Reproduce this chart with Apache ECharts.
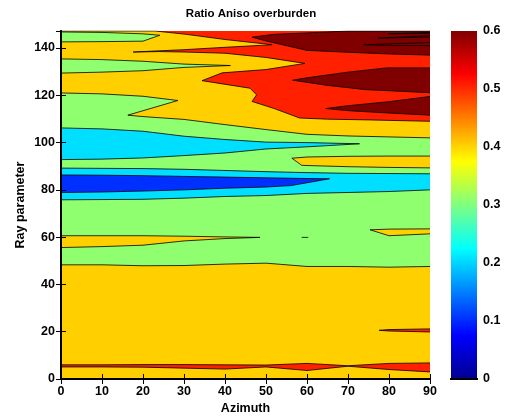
<!DOCTYPE html>
<html>
<head>
<meta charset="utf-8">
<script src="https://cdn.jsdelivr.net/npm/echarts@6/dist/echarts.min.js"></script>
<style>
html, body { margin: 0; padding: 0; background: #fff; }
#chart { width: 505px; height: 417px; }
</style>
</head>
<body>
<div id="chart"></div>
<script>
// axis ticks
const azimuthTicks = [0, 10, 20, 30, 40, 50, 60, 70, 80, 90]
const rayTicks = [0, 20, 40, 60, 80, 100, 120, 140]
const rayMax = 147.2
const ratioTicks = [0, 0.1, 0.2, 0.3, 0.4, 0.5, 0.6]

// contour lines, as [azimuth, ray parameter] paths.
// boundaries cross the whole plot, the band below each gets its level
const redOrange = [[0, 147.2], [23, 147.2], [30.5, 145.8], [40, 143.6], [51.5, 141.4],
    [40, 140.3], [30, 139.3], [17.6, 138.3],
    [24, 138.5], [30, 138.3], [40, 137.8], [50, 136.0], [59.5, 133.5],
    [50, 130.9], [39.3, 129.5], [34.4, 126.2],
    [46.1, 123.0], [47.7, 120.2], [46.6, 117.4], [52, 114.4], [58.2, 110.4], [65, 109.9], [75, 109.6], [90, 109.0]]
const orangeGreen = [[0, 121.0], [10, 120.6], [20, 119.6], [28.5, 117.8], [16.3, 111.6],
    [20, 111.0], [30, 109.8], [40, 107.6], [50, 105.5], [60, 103.5], [70, 102.8], [80, 102.4], [90, 102.0]]
const greenCyan = [[0, 89.2], [10, 89.1], [20, 89.0], [30, 88.7], [40, 88.2], [50, 87.7], [60, 87.3], [70, 87.0], [80, 86.9], [90, 86.8]]
const cyanGreen = [[0, 75.8], [10, 75.9], [20, 76.0], [30, 76.5], [40, 77.2], [50, 77.6], [60, 78.5], [70, 78.9], [80, 79.3], [90, 80.0]]
const greenOrange = [[0, 48.3], [10, 48.3], [20, 47.9], [30, 48.0], [40, 48.6], [50, 49.0], [60, 47.6], [70, 47.6], [80, 47.3], [90, 47.6]]
const orangeRed = [[0, 6.0], [10, 6.0], [20, 6.1], [30, 6.1], [40, 6.0], [50, 5.9], [60, 6.6], [70, 5.6], [80, 6.6], [90, 6.8]]
const redOrangeLow = [[0, 5.1], [10, 5.1], [20, 5.0], [30, 4.6], [40, 4.2], [50, 5.1], [60, 3.6], [70, 5.4], [80, 4.0], [90, 3.0]]

// closed islands running out from a plot edge, filled with their own level
const greenFinger = [[0, 146.8], [10, 146.6], [20, 146.0], [24.1, 145.4], [20, 142.9], [10, 142.7], [0, 142.6]]
const greenFinger2 = [[0, 135.4], [10, 135.1], [20, 134.4], [30, 133.2], [41.3, 132.6], [30, 131.8], [20, 130.4], [10, 129.8], [0, 129.4]]
const darkTop = [[90, 147.2], [70, 147.2], [60, 146.4], [52, 145.8], [46.6, 144.6], [50, 143.0], [55, 141.0], [60, 139.0], [70, 138.2], [80, 137.5], [90, 137.0]]
const darkMid = [[90, 131.6], [79.5, 131.6], [70, 129.8], [60, 127.4], [56.5, 126.4], [65, 124.2], [74.4, 122.4], [90, 121.1]]
const darkLow = [[90, 119.5], [80, 117.3], [70, 115.6], [64.6, 114.4], [70, 113.5], [80, 112.5], [90, 111.6]]
const cyanFinger = [[0, 106.2], [10, 105.8], [20, 104.8], [30, 102.7], [40, 101.3], [50, 100.2], [60, 100.0], [72.8, 99.5],
    [60, 98.2], [50, 97.3], [40, 95.6], [30, 94.5], [20, 93.5], [10, 93.0], [0, 92.8]]
const orangeRight = [[90, 94.3], [80, 94.3], [70, 94.2], [60, 93.9], [56.3, 93.4], [58.7, 90.4], [60, 90.3], [70, 89.8], [80, 89.5], [90, 89.3]]
const blueFinger = [[0, 86.3], [10, 86.2], [20, 86.0], [30, 85.7], [40, 85.4], [50, 85.1], [60, 84.8], [65.5, 84.7],
    [60, 83.0], [56, 81.8], [50, 81.2], [40, 80.7], [30, 80.0], [20, 79.5], [10, 79.1], [0, 78.9]]
const orange62 = [[90, 63.5], [80, 63.4], [75.4, 63.1], [80, 60.6], [90, 61.4]]
const orange58 = [[0, 60.6], [10, 60.6], [20, 60.6], [30, 60.4], [40, 60.1], [48.5, 59.9], [40, 59.4], [30, 58.4], [20, 56.6], [10, 56.0], [0, 55.6]]
const red20 = [[90, 21.2], [80, 20.9], [77.6, 20.6], [80, 20.3], [90, 19.9]]

// contours with no band of their own colour
const dot60 = [[58.7, 59.9], [60.3, 59.9]]
const darkRing1 = [[90, 142.3], [80, 141.8], [73.8, 141.4], [80, 141.1], [90, 141.0]]
const darkRing2 = [[90, 145.2], [77.4, 144.2], [90, 144.6]]
const darkRing3 = [[90, 146.6], [79.9, 146.0], [90, 146.2]]

// level above the top boundary, then paths painted top to bottom, then islands
const topLevel = 0.5
const boundaries = [
    [redOrange, 0.4], [orangeGreen, 0.3], [greenCyan, 0.2], [cyanGreen, 0.3],
    [greenOrange, 0.4], [orangeRed, 0.5], [redOrangeLow, 0.4]
]
const islands = [
    [greenFinger, 0.3], [greenFinger2, 0.3], [darkTop, 0.6], [darkMid, 0.6], [darkLow, 0.6],
    [cyanFinger, 0.2], [orangeRight, 0.4], [blueFinger, 0.1], [orange62, 0.4], [orange58, 0.4], [red20, 0.5]
]
const extraLines = [dot60, darkRing1, darkRing2, darkRing3]

// jet colours of the filled levels
const levelColors = { 0.1: '#0030FF', 0.2: '#00DFFF', 0.3: '#8FFF70', 0.4: '#FFCF00', 0.5: '#FF2000', 0.6: '#800000' }

const font = 'Liberation Sans, Arial, Helvetica, sans-serif'
const labelStyle = { color: '#000', fontWeight: 'bold', fontSize: 12.5, fontFamily: font }
const lineBlack = { lineStyle: { color: '#000', width: 2 } }
const tickIn = { inside: true, length: 5, lineStyle: { color: '#000', width: 1 } }

const chartInstance = echarts.init(document.getElementById('chart'), null, { renderer: 'canvas' })

const filled = boundaries.concat(islands)
// area below each path down to ray 0; nonzero winding leaves the fingers open
const fills = filled.map(([pts, level]) => ({
    type: 'line',
    data: pts,
    xAxisIndex: 0,
    yAxisIndex: 0,
    symbol: 'none',
    silent: true,
    z: 2,
    lineStyle: { width: 0, opacity: 0 },
    areaStyle: { color: levelColors[level], opacity: 1, origin: 'start' }
}))
const strokes = filled.map(c => c[0]).concat(extraLines).map(pts => ({
    type: 'line',
    data: pts,
    xAxisIndex: 0,
    yAxisIndex: 0,
    symbol: 'none',
    silent: true,
    z: 3,
    lineStyle: { color: '#000', width: 0.8 }
}))

const option = {
    animation: false,
    title: {
        text: 'Ratio Aniso overburden',
        left: 246,
        textAlign: 'center',
        top: 3,
        textStyle: { color: '#000', fontWeight: 'bold', fontSize: 11.5, fontFamily: font }
    },
    grid: [
        {
            left: 61, top: 31, width: 369, height: 348, outerBoundsMode: 'none',
            show: true, backgroundColor: levelColors[topLevel], borderWidth: 0
        },
        { left: 451, top: 31, width: 26, height: 348, outerBoundsMode: 'none' }
    ],
    xAxis: [
        {
            type: 'value', gridIndex: 0, min: azimuthTicks[0], max: azimuthTicks[azimuthTicks.length - 1], interval: 10,
            position: 'bottom', z: 10, axisLine: lineBlack, axisTick: tickIn, splitLine: { show: false },
            axisLabel: { ...labelStyle, margin: 6 },
            name: 'Azimuth', nameLocation: 'middle', nameGap: 23, nameMoveOverlap: false, nameTextStyle: labelStyle
        },
        {
            type: 'value', gridIndex: 0, min: 0, max: 90, interval: 10, position: 'top', z: 10,
            axisLine: lineBlack, axisTick: tickIn, splitLine: { show: false }, axisLabel: { show: false }
        },
        {
            type: 'category', gridIndex: 1, data: [''], position: 'bottom', z: 10,
            axisLine: lineBlack, axisTick: { show: false }, axisLabel: { show: false }
        },
        {
            type: 'category', gridIndex: 1, data: [''], position: 'top', z: 10,
            axisLine: lineBlack, axisTick: { show: false }, axisLabel: { show: false }
        }
    ],
    yAxis: [
        {
            type: 'value', gridIndex: 0, min: rayTicks[0], max: rayMax, interval: 20, position: 'left', z: 10,
            axisLine: lineBlack, axisTick: tickIn, splitLine: { show: false },
            axisLabel: { ...labelStyle, margin: 6, showMaxLabel: false },
            name: 'Ray parameter', nameLocation: 'middle', nameGap: 34, nameMoveOverlap: false, nameTextStyle: labelStyle
        },
        {
            type: 'value', gridIndex: 0, min: 0, max: rayMax, interval: 20, position: 'right', z: 10,
            axisLine: lineBlack, axisTick: tickIn, splitLine: { show: false }, axisLabel: { show: false }
        },
        {
            type: 'value', gridIndex: 1, min: ratioTicks[0], max: ratioTicks[ratioTicks.length - 1], interval: 0.1,
            position: 'left', z: 10, axisLine: lineBlack, axisTick: tickIn, splitLine: { show: false }, axisLabel: { show: false }
        },
        {
            type: 'value', gridIndex: 1, min: 0, max: 0.6, interval: 0.1, position: 'right', z: 10,
            axisLine: lineBlack, axisTick: tickIn, splitLine: { show: false },
            axisLabel: { ...labelStyle, margin: 6 }
        }
    ],
    series: fills.concat(strokes).concat([{
        type: 'bar',
        xAxisIndex: 2,
        yAxisIndex: 3,
        data: [ratioTicks[ratioTicks.length - 1]],
        barWidth: '100%',
        silent: true,
        itemStyle: {
            color: new echarts.graphic.LinearGradient(0, 1, 0, 0, [
                { offset: 0, color: '#00008F' },
                { offset: 0.125, color: '#0000FF' },
                { offset: 0.375, color: '#00FFFF' },
                { offset: 0.625, color: '#FFFF00' },
                { offset: 0.875, color: '#FF0000' },
                { offset: 1, color: '#800000' }
            ])
        }
    }])
}

chartInstance.setOption(option)
</script>
</body>
</html>
